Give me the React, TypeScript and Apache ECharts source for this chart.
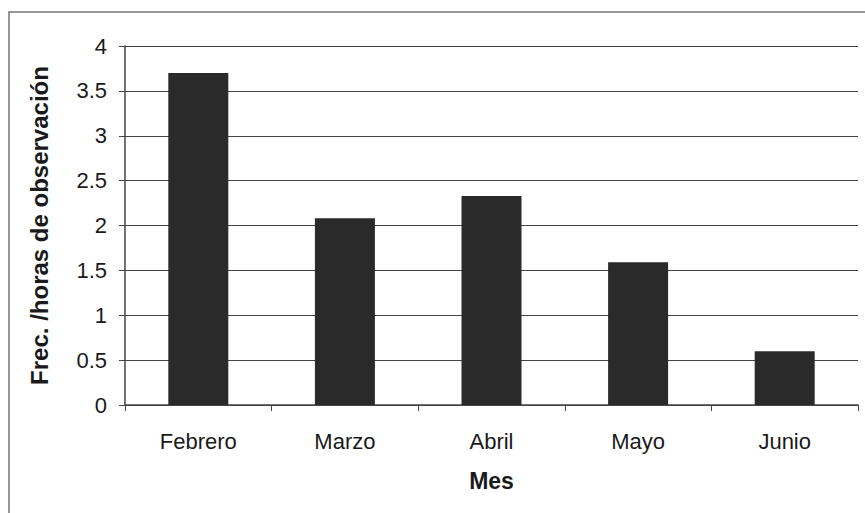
import React, { useEffect, useRef } from "react";
import * as echarts from "echarts";

const categories = ["Febrero", "Marzo", "Abril", "Mayo", "Junio"];
const values = [3.7, 2.08, 2.33, 1.59, 0.6];
const xName = "Mes";
const yName = "Frec. /horas de observación";

export default function App() {
  const ref = useRef<HTMLDivElement>(null);
  useEffect(() => {
    const chart = echarts.init(ref.current!, null, { renderer: "svg" });
    const font = "Liberation Sans, Arial, sans-serif";
    chart.setOption({
      animation: false,
      backgroundColor: "#ffffff",
      graphic: [
        {
          type: "rect",
          shape: { x: 9, y: 12, width: 870, height: 520 },
          style: { fill: "none", stroke: "#777", lineWidth: 1.5 },
          silent: true,
        },
      ],
      grid: { left: 125, right: 7, top: 46, bottom: 108 },
      xAxis: {
        type: "category",
        data: categories,
        name: xName,
        nameLocation: "middle",
        nameGap: 64,
        nameTextStyle: { fontFamily: font, fontSize: 23, fontWeight: "bold", color: "#1a1a1a" },
        axisLine: { lineStyle: { color: "#444", width: 1.5 } },
        axisTick: { show: true, alignWithLabel: false, length: 6, lineStyle: { color: "#444" } },
        axisLabel: { fontFamily: font, fontSize: 22, color: "#1a1a1a", margin: 25 },
      },
      yAxis: {
        type: "value",
        min: 0,
        max: 4,
        interval: 0.5,
        name: yName,
        nameLocation: "middle",
        nameGap: 74,
        nameTextStyle: { fontFamily: font, fontSize: 24, fontWeight: "bold", color: "#1a1a1a" },
        axisLine: { show: true, lineStyle: { color: "#444", width: 1.5 } },
        axisTick: { show: true, length: 6, lineStyle: { color: "#444" } },
        axisLabel: { fontFamily: font, fontSize: 22, color: "#1a1a1a", margin: 18 },
        splitLine: { show: true, lineStyle: { color: "#444", width: 1.2 } },
      },
      series: [
        {
          type: "bar",
          data: values,
          barWidth: 60,
          itemStyle: { color: "#2a2a2a" },
        },
      ],
    });
    return () => chart.dispose();
  }, []);
  return (
    <div
      ref={ref}
      style={{ position: "fixed", left: 0, top: 0, width: 865, height: 513 }}
    />
  );
}
